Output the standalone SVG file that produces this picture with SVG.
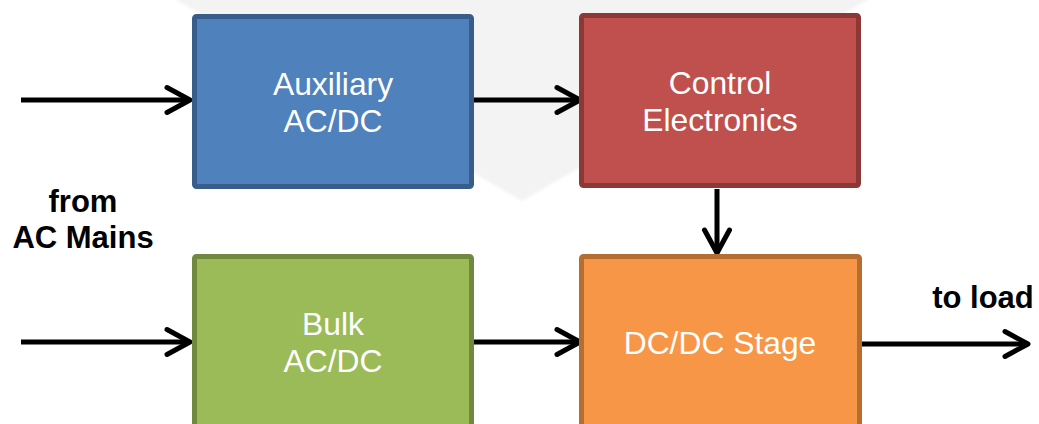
<svg xmlns="http://www.w3.org/2000/svg" width="1039" height="424" viewBox="0 0 1039 424">
  <defs>
    <style>
      .box text { font-family: "Liberation Sans", Arial, sans-serif; font-size: 31.8px; fill: #ffffff; text-anchor: middle; }
      .lbl { font-family: "Liberation Sans", Arial, sans-serif; font-size: 31px; font-weight: bold; fill: #000000; text-anchor: middle; }
      .conn { stroke: #000000; stroke-width: 5; fill: none; }
      .box rect { stroke-width: 5; }
    </style>
    <filter id="soft" x="-5%" y="-5%" width="110%" height="110%">
      <feGaussianBlur stdDeviation="1.5"/>
    </filter>
    <marker id="arrow" markerUnits="userSpaceOnUse" markerWidth="40" markerHeight="40" viewBox="-30 -20 40 40" refX="0" refY="0" orient="auto">
      <path d="M-23,-12.5 L0,0 L-23,12.5" fill="none" stroke="#000000" stroke-width="5" stroke-linecap="round" stroke-linejoin="round"/>
    </marker>
  </defs>
  <rect width="1039" height="424" fill="#ffffff"/>
  <polygon points="168,-5 876,-5 522,201" fill="#f3f3f3" filter="url(#soft)"/>

  <g id="connectors">
    <line class="conn" x1="21" y1="100" x2="190" y2="100" marker-end="url(#arrow)"/>
    <line class="conn" x1="474" y1="100" x2="580" y2="100" marker-end="url(#arrow)"/>
    <line class="conn" x1="21" y1="342" x2="190" y2="342" marker-end="url(#arrow)"/>
    <line class="conn" x1="473" y1="342" x2="580" y2="342" marker-end="url(#arrow)"/>
    <line class="conn" x1="717" y1="189" x2="717" y2="253" marker-end="url(#arrow)"/>
    <line class="conn" x1="862" y1="344" x2="1028" y2="344" marker-end="url(#arrow)"/>
  </g>

  <g id="aux" class="box">
    <rect x="194.5" y="16.5" width="277" height="170" rx="2" fill="#4f81bd" stroke="#385d8a"/>
    <text x="333" y="95">Auxiliary</text>
    <text x="333" y="132">AC/DC</text>
  </g>
  <g id="control" class="box">
    <rect x="581.5" y="15.5" width="277" height="170" rx="2" fill="#c0504d" stroke="#8c3836"/>
    <text x="720" y="94">Control</text>
    <text x="720" y="131">Electronics</text>
  </g>
  <g id="bulk" class="box">
    <rect x="194.5" y="256.5" width="277" height="190" rx="2" fill="#9bbb59" stroke="#71893f"/>
    <text x="333" y="335">Bulk</text>
    <text x="333" y="372">AC/DC</text>
  </g>
  <g id="dcdc" class="box">
    <rect x="581.5" y="256.5" width="278" height="190" rx="2" fill="#f79646" stroke="#b66d31"/>
    <text x="720" y="354">DC/DC Stage</text>
  </g>

  <g id="label-mains">
    <text class="lbl" x="83" y="212">from</text>
    <text class="lbl" x="83" y="248">AC Mains</text>
  </g>
  <g id="label-load">
    <text class="lbl" x="983" y="308">to load</text>
  </g>
</svg>
